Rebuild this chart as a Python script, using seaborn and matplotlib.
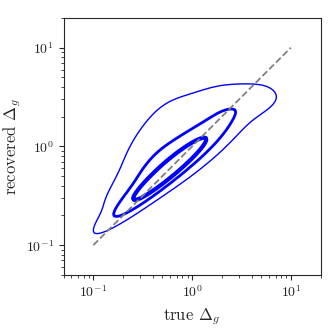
import numpy as np
import pandas as pd
import matplotlib
matplotlib.use("Agg")
import matplotlib.pyplot as plt
import seaborn as sns

# density of (true, recovered) Delta_g, as a few gaussian blobs in log10 space
comp_true = [-0.27, -0.12, -0.10, 0.40, -0.40]
comp_rec = [-0.27, -0.09, 0.12, 0.42, 0.02]
comp_along = [0.34, 0.42, 0.45, 0.30, 0.30]
comp_across = [0.045, 0.10, 0.18, 0.09, 0.12]
comp_angle = [40, 37, 40, 8, 62]
comp_weight = [0.45, 0.35, 0.15, 0.06, 0.05]

contour_levels = [0.05, 0.3, 0.62]
contour_widths = [1.0, 2.0, 3.0]

one_to_one = [0.1, 10]
axis_lim = [0.05, 20]


def blob_density(u, v):
    dens = np.zeros_like(u)
    for cu, cv, sa, sc, ang, w in zip(comp_true, comp_rec, comp_along,
                                      comp_across, comp_angle, comp_weight):
        t = np.deg2rad(ang)
        du, dv = u - cu, v - cv
        a = du * np.cos(t) + dv * np.sin(t)
        c = -du * np.sin(t) + dv * np.cos(t)
        dens += w / (sa * sc) * np.exp(-0.5 * ((a / sa) ** 2 + (c / sc) ** 2))
    return dens


g = np.linspace(-1.3, 1.3, 175)
U, V = np.meshgrid(g, g)
D = blob_density(U, V)
df = pd.DataFrame({"true": 10 ** U.ravel(), "recovered": 10 ** V.ravel(), "w": D.ravel()})
df = df[df["w"] > D.max() * 1e-5]

sns.set_style("ticks")
plt.rcParams["font.family"] = "serif"
plt.rcParams["font.serif"] = ["cmr10", "DejaVu Serif"]
plt.rcParams["mathtext.fontset"] = "cm"
plt.rcParams["axes.formatter.use_mathtext"] = True

fig, ax = plt.subplots(figsize=(3.32, 3.32), dpi=100)
fig.subplots_adjust(left=0.19, right=0.967, bottom=0.172, top=0.946)

sns.kdeplot(data=df, x="true", y="recovered", weights="w", log_scale=True,
            levels=contour_levels, linewidths=contour_widths, colors="blue",
            bw_adjust=0.6, gridsize=140, ax=ax)
ax.plot(one_to_one, one_to_one, color="gray", ls="--", lw=1.3)

ax.set_xlim(axis_lim)
ax.set_ylim(axis_lim)
ax.set_xlabel(r"true $\Delta_g$", fontsize=12)
ax.set_ylabel(r"recovered $\Delta_g$", fontsize=12, labelpad=2)
ax.tick_params(labelsize=10)
ax.set_aspect("equal")

fig.savefig("out.png", dpi=100)
